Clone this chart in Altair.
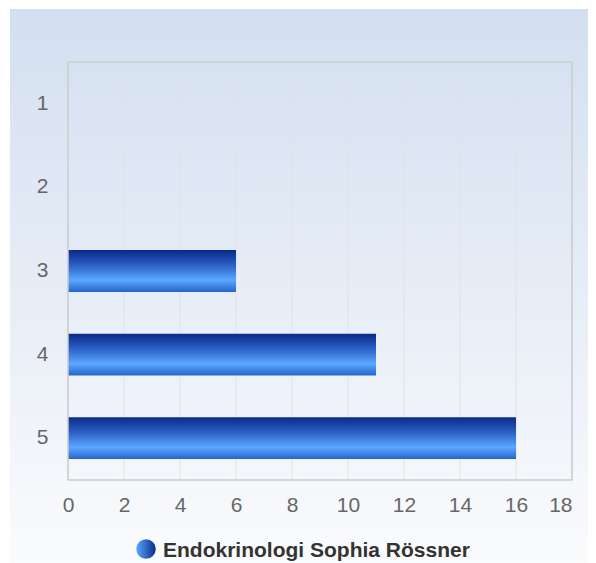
import altair as alt
import pandas as pd

categories = ["1", "2", "3", "4", "5"]
values = [0, 0, 6, 11, 16]
series_name = "Endokrinologi Sophia Rössner"
x_ticks = [0, 2, 4, 6, 8, 10, 12, 14, 16, 18]

df = pd.DataFrame({"cat": categories, "val": values})
ticks_df = pd.DataFrame({"t": x_ticks})

W, H = 504, 418

bg = alt.Chart(pd.DataFrame({"a": [0]})).mark_rect(
    color=alt.Gradient(
        gradient="linear", x1=0, x2=0, y1=0, y2=1,
        stops=[alt.GradientStop(offset=0, color="#d3dff0"),
               alt.GradientStop(offset=1, color="#fafbfd")],
    )
).encode(
    x=alt.value(-58), x2=alt.value(W + 16),
    y=alt.value(-53), y2=alt.value(H + 83),
)

xscale = alt.Scale(domain=[0, 18], nice=False)
xaxis = alt.Axis(title=None, values=x_ticks, ticks=False, domain=False,
                 grid=False, labelPadding=14, labelFlush=False,
                 labelAlign=alt.ExprRef(expr="datum.value == 18 ? 'right' : 'center'"),
                 labelFontSize=21, labelColor="#666666",
                 labelFont="Liberation Sans", zindex=1)

grid = alt.Chart(ticks_df).mark_rule(color="#e2e2e2", strokeWidth=1).encode(
    x=alt.X("t:Q", scale=xscale, axis=xaxis),
    y=alt.value(0), y2=alt.value(H),
)

bars = alt.Chart(df).mark_bar(
    color=alt.Gradient(
        gradient="linear", x1=0, x2=0, y1=0, y2=1,
        stops=[alt.GradientStop(offset=0, color="#0a2a88"),
               alt.GradientStop(offset=0.35, color="#2b5ec4"),
               alt.GradientStop(offset=0.72, color="#5aa8ff"),
               alt.GradientStop(offset=1, color="#2565cc")],
    ),
).encode(
    y=alt.Y("cat:N", sort=categories,
            scale=alt.Scale(paddingInner=0.5, paddingOuter=0.25),
            axis=alt.Axis(title=None, ticks=False, domain=False, grid=False,
                          labelPadding=20, labelFontSize=21, labelColor="#666666",
                          labelFont="Liberation Sans", zindex=1)),
    x=alt.X("val:Q", scale=xscale, axis=xaxis),
)

border = alt.Chart(pd.DataFrame({"a": [0]})).mark_rect(
    fillOpacity=0, stroke="#cccccc", strokeWidth=1.5,
).encode(x=alt.value(0), x2=alt.value(W), y=alt.value(0), y2=alt.value(H))

leg_dot = alt.Chart(pd.DataFrame({"a": [0]})).mark_point(
    filled=True, shape="circle", size=380, opacity=1,
    fill=alt.Gradient(
        gradient="linear", x1=0, x2=1, y1=0, y2=0,
        stops=[alt.GradientStop(offset=0, color="#5aa8ff"),
               alt.GradientStop(offset=1, color="#0a2a88")],
    ),
).encode(x=alt.value(78), y=alt.value(487))

leg_text = alt.Chart(pd.DataFrame({"t": [series_name]})).mark_text(
    align="left", baseline="middle", fontSize=21, fontWeight="bold",
    color="#333333", font="Liberation Sans",
).encode(x=alt.value(95), y=alt.value(489), text="t:N")

chart = alt.layer(bg, grid, bars, border, leg_dot, leg_text).resolve_scale(
    x="shared"
).properties(
    width=W, height=H,
    autosize=alt.AutoSizeParams(type="none"),
    padding={"left": 60, "top": 54, "right": 16, "bottom": 83},
).configure_view(strokeWidth=0)

chart.save("out.html", embed_options={"renderer": "svg", "actions": False})
